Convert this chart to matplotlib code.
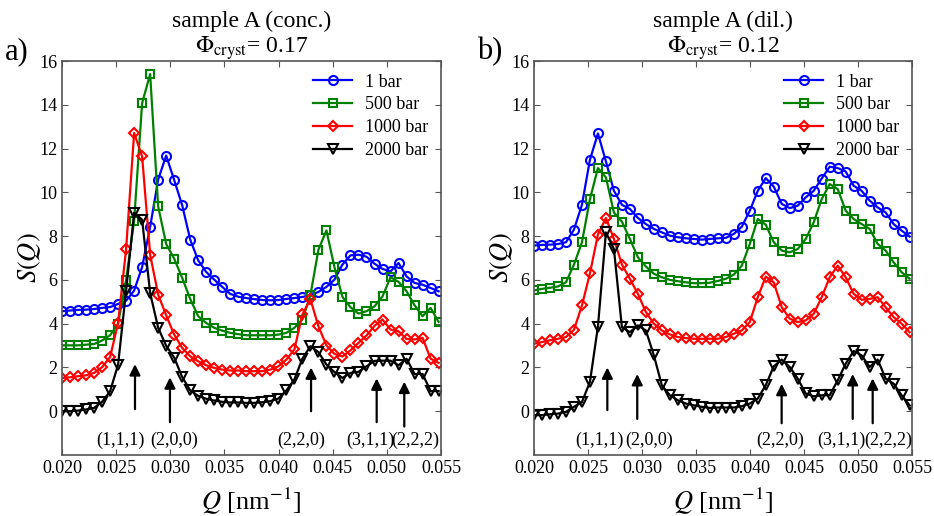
import matplotlib
matplotlib.use("Agg")
import matplotlib.pyplot as plt

plt.rcParams["font.family"] = ["Liberation Serif", "DejaVu Serif"]
plt.rcParams["mathtext.fontset"] = "stix"

# shared Q grid [nm^-1]
Q = [0.02000, 0.02074, 0.02148, 0.02222, 0.02296, 0.02370, 0.02444, 0.02518,
     0.02592, 0.02666, 0.02740, 0.02814, 0.02888, 0.02962, 0.03036, 0.03110,
     0.03184, 0.03258, 0.03332, 0.03406, 0.03480, 0.03554, 0.03628, 0.03702,
     0.03776, 0.03850, 0.03924, 0.03998, 0.04072, 0.04146, 0.04220, 0.04294,
     0.04368, 0.04442, 0.04516, 0.04590, 0.04664, 0.04738, 0.04812, 0.04886,
     0.04960, 0.05034, 0.05108, 0.05182, 0.05256, 0.05330, 0.05404, 0.05478]

labels = ["1 bar", "500 bar", "1000 bar", "2000 bar"]

# sample A (conc.)
conc_1 = [4.57, 4.60, 4.63, 4.64, 4.67, 4.72, 4.76, 4.90, 5.05, 5.51, 6.59, 8.42,
          10.58, 11.68, 10.56, 9.41, 7.84, 6.89, 6.36, 6.01, 5.68, 5.36, 5.23, 5.17,
          5.12, 5.08, 5.07, 5.08, 5.13, 5.17, 5.22, 5.30, 5.45, 5.68, 6.01, 6.70,
          7.12, 7.15, 7.06, 6.74, 6.50, 6.39, 6.77, 6.16, 5.86, 5.78, 5.63, 5.48]
conc_500 = [3.01, 3.01, 3.01, 3.04, 3.07, 3.23, 3.47, 4.00, 6.00, 8.70, 14.08, 15.40,
            9.36, 7.64, 6.97, 6.09, 5.13, 4.34, 4.03, 3.81, 3.68, 3.58, 3.52, 3.47,
            3.47, 3.47, 3.47, 3.50, 3.58, 3.81, 4.19, 5.30, 7.38, 8.26, 6.58, 5.22,
            4.75, 4.46, 4.57, 4.79, 5.25, 6.12, 5.91, 5.48, 4.84, 4.34, 4.72, 4.08]
conc_1000 = [1.52, 1.55, 1.60, 1.64, 1.75, 2.01, 2.47, 4.03, 7.41, 12.71, 11.64, 7.15,
             5.33, 4.38, 3.50, 2.89, 2.51, 2.28, 2.10, 1.98, 1.90, 1.86, 1.86, 1.83,
             1.83, 1.83, 1.90, 2.05, 2.36, 2.82, 4.42, 5.12, 3.88, 3.00, 2.62, 2.50,
             2.78, 3.12, 3.46, 3.90, 4.19, 3.73, 3.65, 3.30, 3.28, 3.35, 2.40, 2.21]
conc_2000 = [0.00, 0.00, 0.03, 0.08, 0.15, 0.43, 0.91, 2.13, 5.51, 9.06, 8.75, 5.40,
             3.81, 2.99, 2.45, 1.56, 0.95, 0.70, 0.57, 0.49, 0.43, 0.40, 0.40, 0.38,
             0.38, 0.41, 0.46, 0.58, 0.95, 1.45, 2.40, 2.97, 2.70, 2.13, 1.79, 1.52,
             1.75, 1.80, 2.05, 2.30, 2.31, 2.31, 2.10, 2.40, 1.70, 1.70, 0.92, 0.92]

# sample A (dil.)
dil_1 = [7.57, 7.60, 7.61, 7.64, 7.72, 8.30, 9.43, 11.49, 12.69, 11.41, 10.07, 9.43,
         9.24, 8.83, 8.55, 8.33, 8.17, 8.02, 7.95, 7.90, 7.87, 7.84, 7.87, 7.90,
         7.92, 8.10, 8.43, 9.16, 10.07, 10.65, 10.26, 9.47, 9.28, 9.39, 9.77, 10.07,
         10.63, 11.17, 11.11, 10.95, 10.30, 10.07, 9.62, 9.31, 9.08, 8.55, 8.25, 7.98]
dil_500 = [5.52, 5.59, 5.64, 5.70, 5.89, 6.70, 7.72, 9.69, 11.11, 10.68, 9.08, 8.66,
           7.87, 7.03, 6.61, 6.28, 6.12, 6.00, 5.94, 5.89, 5.85, 5.85, 5.87, 5.95,
           6.05, 6.24, 6.65, 7.64, 8.78, 8.52, 7.72, 7.34, 7.26, 7.41, 7.87, 8.63,
           9.69, 10.38, 10.15, 9.16, 8.78, 8.55, 8.33, 7.64, 7.34, 6.80, 6.35, 6.05]
dil_1000 = [3.08, 3.16, 3.24, 3.31, 3.39, 3.72, 4.83, 6.30, 8.07, 8.83, 7.87, 6.70,
            6.05, 5.36, 4.53, 4.00, 3.69, 3.51, 3.39, 3.34, 3.31, 3.31, 3.31, 3.31,
            3.39, 3.54, 3.69, 4.07, 5.21, 6.15, 5.89, 4.75, 4.23, 4.07, 4.15, 4.45,
            5.21, 6.12, 6.65, 6.12, 5.36, 5.09, 5.13, 5.21, 4.75, 4.30, 4.00, 3.61]
dil_2000 = [-0.18, -0.18, -0.14, -0.11, -0.03, 0.20, 0.42, 1.34, 3.87, 8.17, 7.41, 3.84,
            3.61, 3.92, 3.69, 2.55, 1.18, 0.73, 0.50, 0.35, 0.27, 0.20, 0.15, 0.17,
            0.17, 0.17, 0.23, 0.35, 0.58, 1.19, 2.05, 2.36, 2.02, 1.49, 0.81, 0.68,
            0.73, 0.73, 1.41, 2.17, 2.75, 2.55, 2.02, 2.36, 1.49, 1.26, 0.73, 0.27]

# Bragg reflections: name, arrow Q, arrow tail/head S(Q), label Q
hkl = ["(1,1,1)", "(2,0,0)", "(2,2,0)", "(3,1,1)", "(2,2,2)"]
conc_arrow_q = [0.02674, 0.02997, 0.04300, 0.04906, 0.05161]
conc_arrow_s = [(0.1, 2.15), (-0.5, 1.55), (0.0, 2.0), (-0.5, 1.5), (-0.7, 1.35)]
conc_label_q = [0.02536, 0.03034, 0.04207, 0.04844, 0.05260]
dil_arrow_q = [0.02679, 0.02956, 0.04293, 0.04951, 0.05136]
dil_arrow_s = [(0.05, 2.0), (-0.35, 1.7), (-0.55, 1.25), (-0.35, 1.7), (-0.55, 1.5)]
dil_label_q = [0.02602, 0.03065, 0.04278, 0.04843, 0.05278]

colors = ["#0000ff", "#008000", "#ff0000", "#000000"]
markers = ["o", "s", "D", "v"]
msizes = [6.5, 5.5, 5.5, 7]

fig = plt.figure(figsize=(9.34, 5.16), dpi=100)
axL = fig.add_axes([62 / 934, 1 - 455 / 516, 379 / 934, 394 / 516])
axR = fig.add_axes([534 / 934, 1 - 455 / 516, 378 / 934, 394 / 516])

panels = [
    (axL, [conc_1, conc_500, conc_1000, conc_2000], "sample A (conc.)", "0.17",
     conc_arrow_q, conc_arrow_s, conc_label_q),
    (axR, [dil_1, dil_500, dil_1000, dil_2000], "sample A (dil.)", "0.12",
     dil_arrow_q, dil_arrow_s, dil_label_q),
]

for ax, series, title, phi, aq, asv, lq in panels:
    for y, c, m, ms, lab in zip(series, colors, markers, msizes, labels):
        ax.plot(Q, y, color=c, marker=m, ms=ms, mfc="none", mec=c, mew=1.5,
                lw=1.6, label=lab)
    for name, q, (s0, s1), ql in zip(hkl, aq, asv, lq):
        ax.annotate("", xy=(q, s1), xytext=(q, s0),
                    arrowprops=dict(arrowstyle="-|>", color="k", lw=1.6,
                                    mutation_scale=16, shrinkA=0, shrinkB=0))
        ax.text(ql, -1.35, name, ha="center", va="center", fontsize=13)
    ax.set_xlim(0.020, 0.055)
    ax.set_ylim(-2, 16)
    ax.set_xticks([0.020, 0.025, 0.030, 0.035, 0.040, 0.045, 0.050, 0.055])
    ax.set_xticklabels(["0.020", "0.025", "0.030", "0.035", "0.040", "0.045",
                        "0.050", "0.055"])
    ax.set_yticks(range(0, 17, 2))
    ax.tick_params(direction="in", top=True, right=True, labelsize=13,
                   length=4, width=0.8, color="#555555")
    for sp in ax.spines.values():
        sp.set_color("#555555")
        sp.set_linewidth(1.2)
    ax.set_xlabel("$Q$ [nm$^{-1}$]", fontsize=19, labelpad=6)
    ax.set_ylabel("$S(Q)$", fontsize=19, labelpad=-3)
    ax.set_title(title + "\n$\\Phi_{\\rm cryst}$= " + phi, fontsize=17,
                 linespacing=1.1, pad=6)
    ax.legend(loc="upper right", frameon=False, fontsize=13, handlelength=2.2,
              handletextpad=0.7, labelspacing=0.32, borderaxespad=0.3)

fig.text(5 / 934, 1 - 52 / 516, "a)", fontsize=22, va="center", ha="left")
fig.text(477 / 934, 1 - 52 / 516, "b)", fontsize=22, va="center", ha="left")

fig.savefig("out.png", dpi=100)
